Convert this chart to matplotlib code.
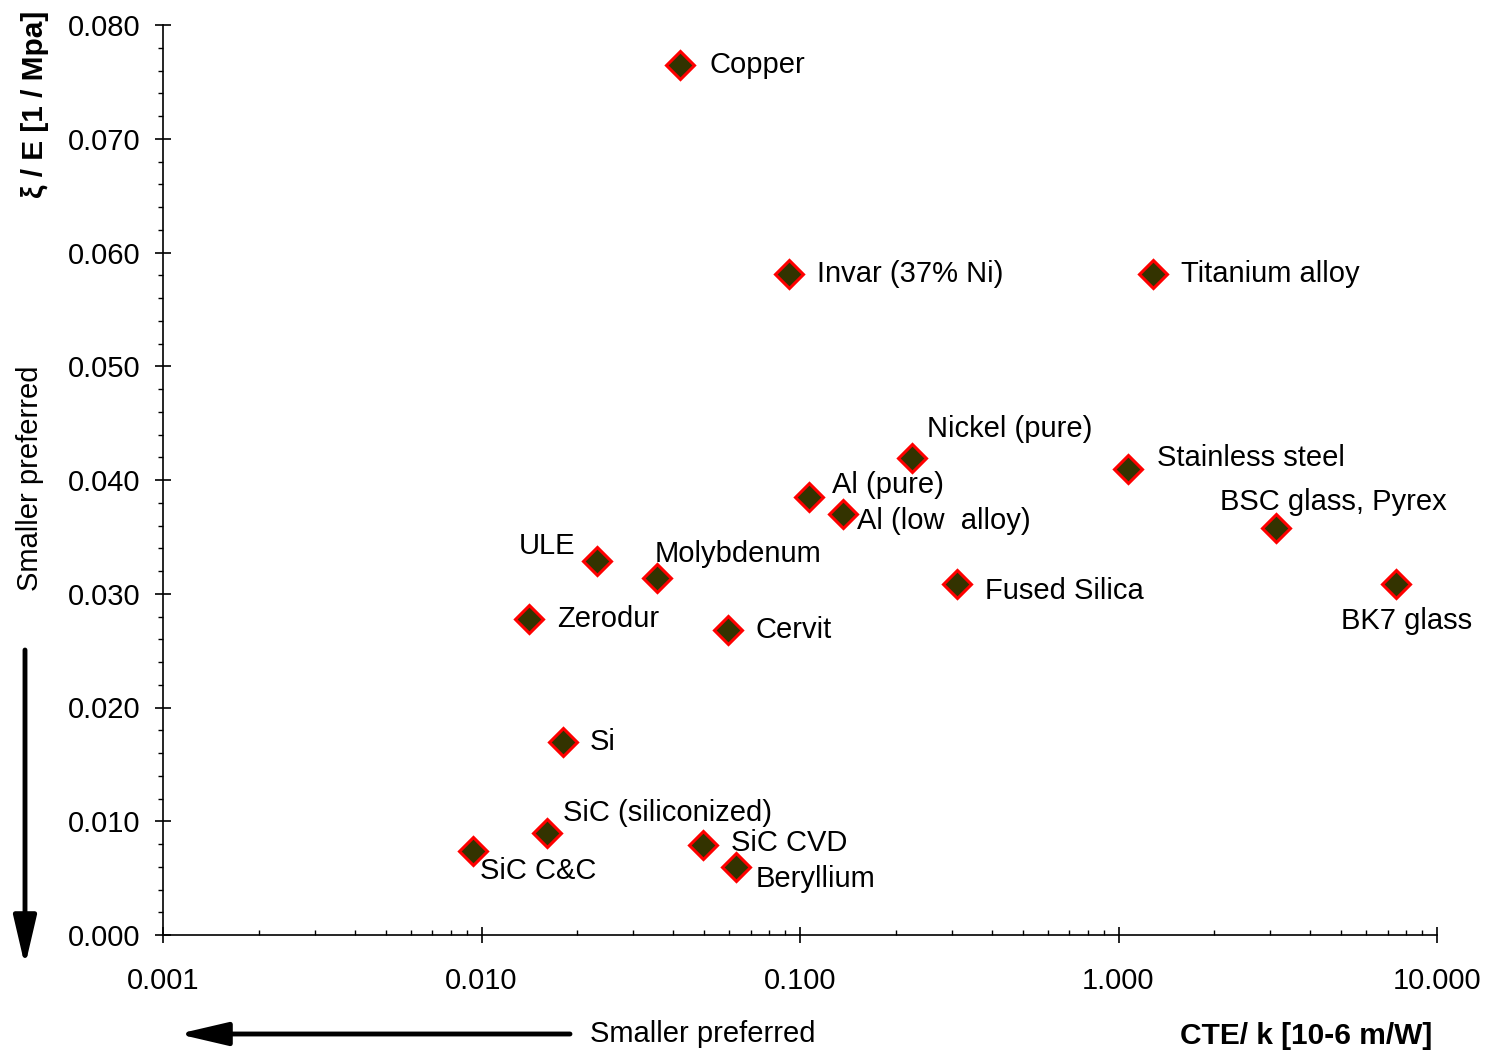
import numpy as np
import matplotlib
matplotlib.use('Agg')
import matplotlib.pyplot as plt
from matplotlib.ticker import FixedLocator, MultipleLocator, LogLocator, FormatStrFormatter, NullFormatter

plt.rcParams['font.family'] = ['Liberation Sans', 'DejaVu Sans']

# materials: CTE/k (x) and xi/E (y)
materials = ['Copper', 'Invar (37% Ni)', 'Titanium alloy', 'Nickel (pure)', 'Stainless steel',
             'Al (pure)', 'Al (low  alloy)', 'BSC glass, Pyrex', 'ULE', 'Molybdenum',
             'Fused Silica', 'BK7 glass', 'Zerodur', 'Cervit', 'Si',
             'SiC (siliconized)', 'SiC C&C', 'SiC CVD', 'Beryllium']
cte_k = [0.042, 0.0925, 1.28, 0.225, 1.07,
         0.107, 0.136, 3.12, 0.0231, 0.0356,
         0.311, 7.43, 0.0141, 0.0594, 0.0180,
         0.0161, 0.0094, 0.0496, 0.0630]
xi_e = [0.0765, 0.0581, 0.0581, 0.0419, 0.0410,
        0.0385, 0.0370, 0.0358, 0.0329, 0.0314,
        0.0309, 0.0309, 0.0278, 0.0268, 0.0170,
        0.0090, 0.0074, 0.0079, 0.0060]

# label offsets in pixels (dx, dy; dy down positive) and alignment
label_pos = {
    'Copper': (29, 0, 'left'), 'Invar (37% Ni)': (28, 0, 'left'),
    'Titanium alloy': (28, 0, 'left'), 'Nickel (pure)': (15, -29, 'left'),
    'Stainless steel': (29, -11, 'left'), 'Al (pure)': (23, -12, 'left'),
    'Al (low  alloy)': (14, 7, 'left'), 'BSC glass, Pyrex': (-56, -26, 'left'),
    'ULE': (-22, -15, 'right'), 'Molybdenum': (-3, -24, 'left'),
    'Fused Silica': (28, 7, 'left'), 'BK7 glass': (-55, 37, 'left'),
    'Zerodur': (28, 0, 'left'), 'Cervit': (28, 0, 'left'), 'Si': (27, 0, 'left'),
    'SiC (siliconized)': (16, -20, 'left'), 'SiC C&C': (7, 20, 'left'),
    'SiC CVD': (28, -2, 'left'), 'Beryllium': (20, 12, 'left'),
}

fig = plt.figure(figsize=(14.93, 10.56), dpi=100)
ax = fig.add_axes([163 / 1493, 1 - 935 / 1056, (1437 - 163) / 1493, (935 - 25) / 1056])

ax.plot(cte_k, xi_e, linestyle='none', marker='D', markersize=14,
        markerfacecolor='#333300', markeredgecolor='#ff0000', markeredgewidth=2.2,
        clip_on=False, zorder=3)

px = 0.72
for name, x, y in zip(materials, cte_k, xi_e):
    dx, dy, ha = label_pos[name]
    ax.annotate(name, (x, y), xytext=(dx * px, -dy * px), textcoords='offset points',
                ha=ha, va='center', fontsize=21, color='black')

ax.set_xscale('log')
ax.set_xlim(0.001, 10)
ax.set_ylim(0, 0.08)

ax.spines['top'].set_visible(False)
ax.spines['right'].set_visible(False)
ax.spines['left'].set_linewidth(1.2)
ax.spines['bottom'].set_linewidth(1.2)

ax.xaxis.set_major_locator(FixedLocator([0.001, 0.01, 0.1, 1, 10]))
ax.xaxis.set_major_formatter(FormatStrFormatter('%.3f'))
ax.xaxis.set_minor_locator(LogLocator(base=10, subs=np.arange(2, 10)))
ax.xaxis.set_minor_formatter(NullFormatter())
ax.yaxis.set_major_locator(MultipleLocator(0.01))
ax.yaxis.set_major_formatter(FormatStrFormatter('%.3f'))
ax.yaxis.set_minor_locator(MultipleLocator(0.002))

ax.tick_params(axis='both', which='major', direction='inout', length=12, width=1.2,
               labelsize=21)
ax.tick_params(axis='y', which='major', pad=10)
ax.tick_params(axis='x', which='major', pad=17)
ax.tick_params(axis='x', which='minor', direction='in', length=3.5, width=1)
ax.tick_params(axis='y', which='minor', direction='out', length=3.5, width=1)

# axis titles and "smaller preferred" hints
fig.text(35 / 1493, 1 - 104 / 1056, '\u03be / E [1 / Mpa]', rotation=90, ha='center',
         va='center', fontsize=21.5, fontweight='bold')
fig.text(30 / 1493, 1 - 478 / 1056, 'Smaller preferred', rotation=90, ha='center',
         va='center', fontsize=21)
fig.text(590 / 1493, 1 - 1034 / 1056, 'Smaller preferred', ha='left', va='center',
         fontsize=21)
fig.text(1432 / 1493, 1 - 1036 / 1056, 'CTE/ k [10-6 m/W]', ha='right', va='center',
         fontsize=21.5, fontweight='bold')

# arrows in figure pixel space
arrow = dict(arrowstyle='-|>,head_length=1.5,head_width=0.35', lw=3.5, color='black',
             mutation_scale=20, shrinkA=0, shrinkB=0)
ax.annotate('', xy=(25, 1056 - 966), xytext=(25, 1056 - 650), xycoords='figure pixels',
            textcoords='figure pixels', arrowprops=arrow, annotation_clip=False)
ax.annotate('', xy=(178, 1056 - 1034), xytext=(570, 1056 - 1034), xycoords='figure pixels',
            textcoords='figure pixels', arrowprops=arrow, annotation_clip=False)

fig.savefig('out.png', dpi=100)
